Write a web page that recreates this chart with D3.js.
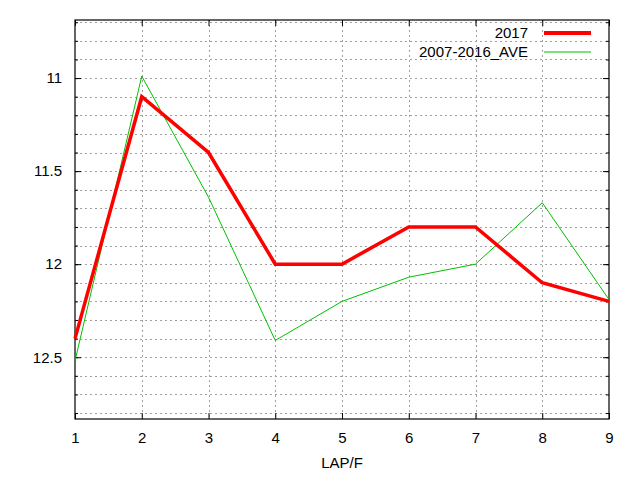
<!DOCTYPE html>
<html>
<head>
<meta charset="utf-8">
<script src="https://cdn.jsdelivr.net/npm/d3@7"></script>
<style>
  body { margin: 0; background: #fff; }
  text { font-family: "Liberation Sans", Arial, sans-serif; font-size: 15px; fill: #000; }
  .grid line { stroke: #a0a0a0; stroke-width: 1; stroke-dasharray: 2,3; }
  .axis path { display: none; }
  .axis line { stroke: #000; }
</style>
</head>
<body>
<svg id="chart" width="640" height="480"></svg>
<script>
// données
const laps = [1, 2, 3, 4, 5, 6, 7, 8, 9];
const values2017 = [12.4, 11.1, 11.4, 12.0, 12.0, 11.8, 11.8, 12.1, 12.2];
const valuesAve = [12.52, 10.99, 11.64, 12.41, 12.2, 12.07, 12.0, 11.67, 12.19];
const yMajor = [11, 11.5, 12, 12.5];
const yMinor = [10.7, 10.8, 10.9, 11, 11.1, 11.2, 11.3, 11.4, 11.5, 11.6, 11.7,
  11.8, 11.9, 12, 12.1, 12.2, 12.3, 12.4, 12.5, 12.6, 12.7, 12.8];
const seriesNames = ["2017", "2007-2016_AVE"];

const margin = { top: 20, right: 31, bottom: 61, left: 75 };
const width = 640 - margin.left - margin.right;
const height = 480 - margin.top - margin.bottom;

const svg = d3.select("#chart");
const g = svg.append("g").attr("transform", `translate(${margin.left},${margin.top})`);

const x = d3.scaleLinear().domain([1, 9]).range([0, width]);
// axe y inversé
const y = d3.scaleLinear().domain([10.688, 12.832]).range([0, height]);

// grille
const grid = g.append("g").attr("class", "grid");
grid.selectAll(".gy")
  .data(yMinor)
  .enter()
  .append("line")
  .attr("x1", 0)
  .attr("x2", width)
  .attr("y1", (d) => Math.round(y(d)) + 0.5)
  .attr("y2", (d) => Math.round(y(d)) + 0.5);
grid.selectAll(".gx")
  .data(laps.slice(1, -1))
  .enter()
  .append("line")
  .attr("x1", (d) => Math.round(x(d)) + 0.5)
  .attr("x2", (d) => Math.round(x(d)) + 0.5)
  .attr("y1", 0)
  .attr("y2", height);

// axes (ticks vers l'intérieur)
g.append("g").attr("class", "axis")
  .call(d3.axisLeft(y).tickValues(yMajor).tickSize(-6).tickPadding(13).tickFormat(d3.format("")));
g.append("g").attr("class", "axis")
  .call(d3.axisLeft(y).tickValues(yMinor).tickSize(-3).tickFormat(""));
g.append("g").attr("class", "axis").attr("transform", `translate(${width},0)`)
  .call(d3.axisRight(y).tickValues(yMajor).tickSize(-6).tickFormat(""));
g.append("g").attr("class", "axis").attr("transform", `translate(${width},0)`)
  .call(d3.axisRight(y).tickValues(yMinor).tickSize(-3).tickFormat(""));
g.append("g").attr("class", "axis").attr("transform", `translate(0,${height})`)
  .call(d3.axisBottom(x).tickValues(laps).tickSize(-6).tickPadding(13).tickFormat(d3.format("d")));
g.append("g").attr("class", "axis")
  .call(d3.axisTop(x).tickValues(laps).tickSize(-6).tickFormat(""));

g.selectAll(".axis text").style("font-size", "15px").style("font-family", "'Liberation Sans', Arial, sans-serif");

// cadre
g.append("rect")
  .attr("x", 0)
  .attr("y", 0)
  .attr("width", width)
  .attr("height", height)
  .attr("fill", "none")
  .attr("stroke", "#000")
  .attr("stroke-width", 1.2);

// courbes
const line = d3.line()
  .x((d, i) => x(laps[i]))
  .y((d) => y(d));

g.append("path")
  .datum(valuesAve)
  .attr("fill", "none")
  .attr("stroke", "#00c000")
  .attr("stroke-width", 1)
  .attr("d", line);

g.append("path")
  .datum(values2017)
  .attr("fill", "none")
  .attr("stroke", "#ff0000")
  .attr("stroke-width", 3.5)
  .attr("d", line);

// légende
const legendColors = ["#ff0000", "#00c000"];
const legendWidths = [4, 1];
seriesNames.forEach((name, i) => {
  svg.append("text")
    .attr("x", 528)
    .attr("y", 38 + i * 19)
    .attr("text-anchor", "end")
    .text(name);
  svg.append("line")
    .attr("x1", 544)
    .attr("x2", 591)
    .attr("y1", 33 + i * 19)
    .attr("y2", 33 + i * 19)
    .attr("stroke", legendColors[i])
    .attr("stroke-width", legendWidths[i]);
});

// titre de l'axe x
svg.append("text")
  .attr("x", margin.left + width / 2)
  .attr("y", 468)
  .attr("text-anchor", "middle")
  .text("LAP/F");
</script>
</body>
</html>
